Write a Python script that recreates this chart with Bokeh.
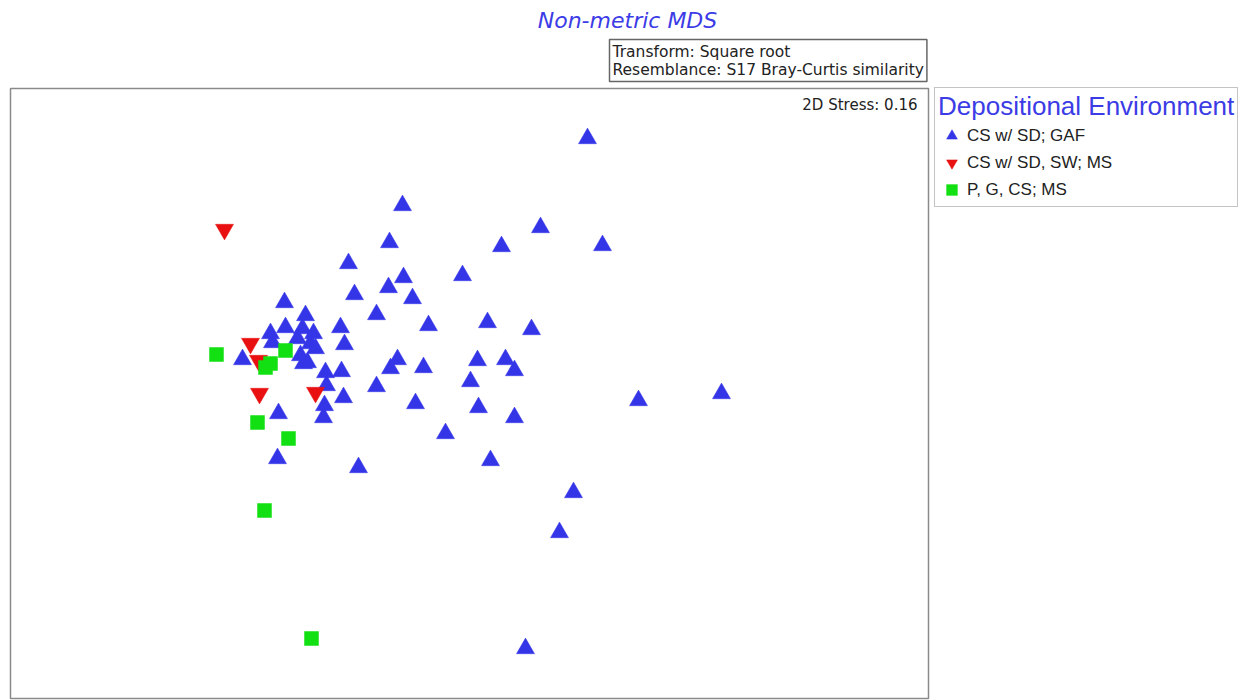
from bokeh.plotting import figure
from bokeh.models import Range1d, Label, Legend, LegendItem
from bokeh.embed import file_html
from bokeh.resources import INLINE

# NMDS ordination coordinates (arbitrary MDS units)
blue_x = [587, 402, 540, 389, 501, 602, 348, 462, 403, 388,
          354, 412, 284, 376, 305, 428, 487, 531, 340, 285,
          270, 302, 313, 272, 297, 310, 315, 300, 307, 344,
          397, 390, 423, 477, 505, 514, 325, 341, 303, 376,
          470, 326, 343, 324, 323, 415, 478, 514, 445, 490,
          358, 242, 278, 277, 638, 721, 573, 559, 525]
blue_y = [562, 495, 473, 458, 454, 455, 437, 425, 423, 413,
          406, 402, 398, 386, 385, 375, 378, 371, 373, 373,
          367, 372, 367, 358, 362, 357, 352, 345, 338, 356,
          341, 332, 333, 340, 341, 330, 328, 329, 337, 314,
          319, 315, 303, 295, 283, 297, 293, 283, 267, 240,
          233, 341, 287, 242, 300, 307, 208, 168, 52]
red_x = [224, 250, 258, 259, 315]
red_y = [471, 357, 340, 307, 308]
green_x = [216, 285, 265, 270, 257, 288, 264, 311]
green_y = [346, 350, 333, 337, 278, 262, 190, 62]

groups = ["CS w/ SD; GAF", "CS w/ SD, SW; MS", "P, G, CS; MS"]

# ordination panel extent (MDS units)
box_left, box_right, box_bottom, box_top = 10, 928, 2, 612

W, H = 1240, 700
p = figure(width=W, height=H,
           x_range=Range1d(0, W), y_range=Range1d(0, H),
           x_axis_location=None, y_axis_location=None,
           toolbar_location=None, output_backend="svg",
           min_border_left=0, min_border_top=0, min_border_bottom=0, min_border_right=0,
           background_fill_color="white", border_fill_color="white")
p.grid.visible = False
p.outline_line_color = None

# ordination panel border
p.quad(left=[box_left], right=[box_right], bottom=[box_bottom], top=[box_top],
       fill_color=None, line_color="#8a8a8a", line_width=1.5)

r_blue = p.scatter(x=blue_x, y=blue_y, marker="triangle", size=18,
                   fill_color="#3535e8", line_color="#3535e8", line_width=0.5)
r_red = p.scatter(x=red_x, y=red_y, marker="inverted_triangle", size=18,
                  fill_color="#e81010", line_color="#e81010", line_width=0.5)
r_green = p.scatter(x=green_x, y=green_y, marker="square", size=14,
                    fill_color="#12e012", line_color="#12e012", line_width=0.5)

legend = Legend(items=[LegendItem(label=groups[0], renderers=[r_blue]),
                       LegendItem(label=groups[1], renderers=[r_red]),
                       LegendItem(label=groups[2], renderers=[r_green])],
                location=(934, 493), title="Depositional Environment",
                title_text_font="Liberation Sans", title_text_font_size="26px",
                title_text_color="#3c3ce6", title_text_font_style="normal",
                title_standoff=-10,
                label_text_font="Liberation Sans", label_text_font_size="17px",
                label_text_color="#222222",
                glyph_width=27, glyph_height=27, spacing=0, label_standoff=2,
                label_height=27,
                padding=3, margin=0,
                border_line_color="#8a8a8a", border_line_width=1.5,
                background_fill_color="white", background_fill_alpha=1.0)
p.add_layout(legend)

p.add_layout(Label(x=627, y=680,
                   text="Non-metric MDS", text_font="DejaVu Sans", text_font_size="22px",
                   text_font_style="italic", text_color="#3c3ce6",
                   text_align="center", text_baseline="middle"))
p.add_layout(Label(x=609, y=661,
                   text="Transform: Square root\nResemblance: S17 Bray-Curtis similarity",
                   text_font="DejaVu Sans", text_font_size="15.5px", text_color="#222222",
                   text_line_height=1.0, anchor="top_left", padding=3,
                   border_line_color="#666666", border_line_width=1.5,
                   background_fill_color="white"))
p.add_layout(Label(x=917, y=596,
                   text="2D Stress: 0.16", text_font="DejaVu Sans", text_font_size="15px",
                   text_color="#222222", text_align="right", text_baseline="middle"))

open("out.html", "w").write(file_html(p, INLINE))
